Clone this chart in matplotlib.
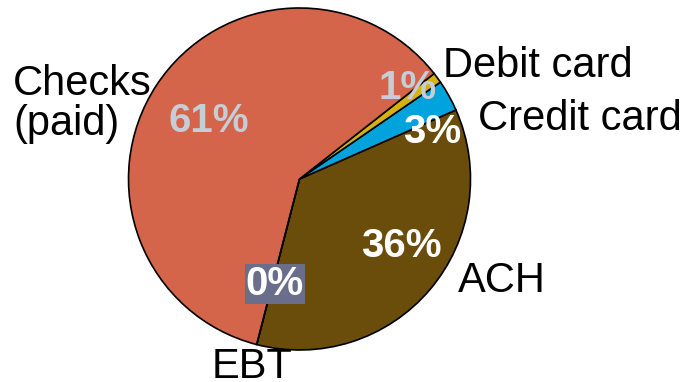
import matplotlib
matplotlib.use("Agg")
import matplotlib.pyplot as plt

plt.rcParams["font.family"] = ["Liberation Sans", "DejaVu Sans"]

# Payment methods, drawn counter-clockwise starting from ACH
categories = ["ACH", "Credit card", "Debit card", "Checks (paid)", "EBT"]
shares = [36, 3, 1, 61, 0]
colors = ["#6B4D0B", "#00A3DC", "#D6B20C", "#D4654A", "#6A6E8A"]

W, H, DPI = 687, 382, 100
cx, cy, R = 299.5, 179.0, 171.0  # pie centre and radius in pixels


def to_data(px, py):
    return (px - cx) / R, (cy - py) / R


fig = plt.figure(figsize=(W / DPI, H / DPI), dpi=DPI)
ax = fig.add_axes([0, 0, 1, 1])

wedges, _ = ax.pie(
    shares,
    colors=colors,
    startangle=-104.5,
    counterclock=True,
    radius=1.0,
    wedgeprops=dict(edgecolor="black", linewidth=1.2),
)

x0, y1 = to_data(0, 0)
x1, y0 = to_data(W, H)
ax.set_xlim(x0, x1)
ax.set_ylim(y0, y1)
ax.set_aspect("auto")
ax.axis("off")

# Percentage labels inside the slices
pct_style = {
    "Checks (paid)": dict(pos=(208.5, 132), color="#C5CED6"),
    "Debit card": dict(pos=(408, 99), color="#C5CED6"),
    "Credit card": dict(pos=(432, 143), color="white"),
    "ACH": dict(pos=(401, 256.7), color="white"),
    "EBT": dict(pos=(275, 295), color="white"),
}
for name, val in zip(categories, shares):
    st = pct_style[name]
    x, y = to_data(*st["pos"])
    kw = {}
    if name == "EBT":
        kw["bbox"] = dict(boxstyle="square,pad=0.02", facecolor="#6A6E8A",
                          edgecolor="none")
    ax.text(x, y, f"{val}%", ha="center", va="baseline", fontsize=29,
            fontweight="bold", color=st["color"], **kw)

# Category names outside the pie
outer = [
    ("Checks", (13, 95)),
    ("(paid)", (13, 135)),
    ("Debit card", (443, 76.7)),
    ("Credit card", (478, 130)),
    ("ACH", (458, 292)),
    ("EBT", (212, 378)),
]
for txt, (px, py) in outer:
    x, y = to_data(px, py)
    ax.text(x, y, txt, ha="left", va="baseline", fontsize=30, color="black")

fig.savefig("out.png", dpi=DPI)
